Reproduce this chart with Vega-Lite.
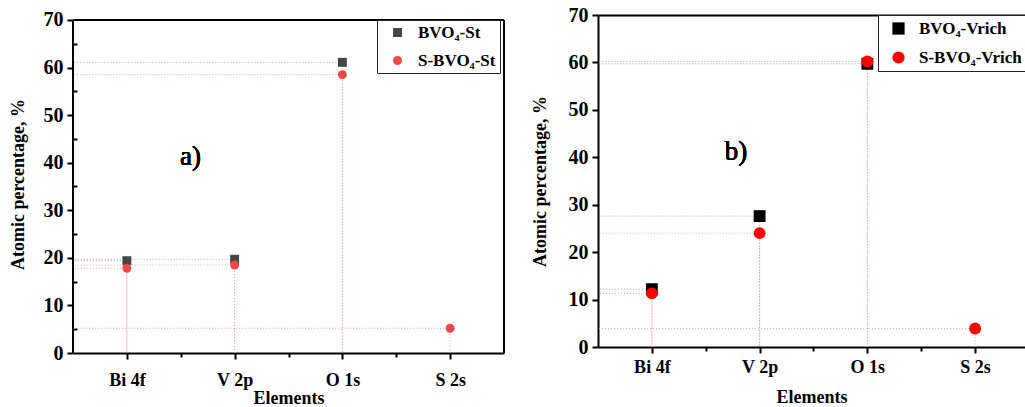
{
  "$schema": "https://vega.github.io/schema/vega-lite/v6.json",
  "padding": {"left": 9, "top": 5, "right": 0, "bottom": 0},
  "spacing": 26,
  "resolve": {
    "scale": {"color": "independent", "shape": "independent"},
    "legend": {"color": "independent", "shape": "independent"}
  },
  "config": {
    "font": "Liberation Serif",
    "view": {"stroke": null},
    "axis": {
      "grid": false,
      "domainColor": "black",
      "domainWidth": 2,
      "tickColor": "black",
      "tickWidth": 2,
      "tickSize": 6,
      "labelFont": "Liberation Serif",
      "labelFontWeight": "bold",
      "labelFontSize": 18,
      "labelColor": "black",
      "titleFont": "Liberation Serif",
      "titleFontWeight": "bold",
      "titleFontSize": 18,
      "titleColor": "black"
    }
  },
  "datasets": {
    "st": [
      {"element": "Bi 4f", "pos": 1, "sample": "BVO₄-St", "value": 19.4},
      {"element": "V 2p", "pos": 2, "sample": "BVO₄-St", "value": 19.7},
      {"element": "O 1s", "pos": 3, "sample": "BVO₄-St", "value": 61.1},
      {"element": "Bi 4f", "pos": 1, "sample": "S-BVO₄-St", "value": 17.8},
      {"element": "V 2p", "pos": 2, "sample": "S-BVO₄-St", "value": 18.5},
      {"element": "O 1s", "pos": 3, "sample": "S-BVO₄-St", "value": 58.5},
      {"element": "S 2s", "pos": 4, "sample": "S-BVO₄-St", "value": 5.2}
    ],
    "rich": [
      {"element": "Bi 4f", "pos": 1, "sample": "BVO₄-Vrich", "value": 12.2},
      {"element": "V 2p", "pos": 2, "sample": "BVO₄-Vrich", "value": 27.6},
      {"element": "O 1s", "pos": 3, "sample": "BVO₄-Vrich", "value": 59.7},
      {"element": "Bi 4f", "pos": 1, "sample": "S-BVO₄-Vrich", "value": 11.3},
      {"element": "V 2p", "pos": 2, "sample": "S-BVO₄-Vrich", "value": 24.0},
      {"element": "O 1s", "pos": 3, "sample": "S-BVO₄-Vrich", "value": 60.2},
      {"element": "S 2s", "pos": 4, "sample": "S-BVO₄-Vrich", "value": 3.9}
    ]
  },
  "hconcat": [
    {
      "width": 431,
      "height": 338,
      "data": {"name": "st"},
      "encoding": {
        "x": {
          "field": "pos", "type": "quantitative",
          "scale": {"domain": [0.5, 4.5], "nice": false, "zero": false},
          "axis": {
            "title": "Elements",
            "values": [1, 1.5, 2, 2.5, 3, 3.5, 4],
            "labelExpr": "datum.value === 1 ? 'Bi 4f' : datum.value === 2 ? 'V 2p' : datum.value === 3 ? 'O 1s' : datum.value === 4 ? 'S 2s' : ''",
            "tickSize": {"condition": {"test": "datum.value % 1 === 0", "value": 6}, "value": 4},
            "labelPadding": 12,
            "titlePadding": 0
          }
        },
        "y": {
          "field": "value", "type": "quantitative",
          "scale": {"domain": [0, 71.05], "nice": false},
          "axis": {
            "title": "Atomic percentage, %",
            "domain": false,
            "values": [0, 5, 10, 15, 20, 25, 30, 35, 40, 45, 50, 55, 60, 65, 70],
            "labelExpr": "datum.value % 10 === 0 ? datum.label : ''",
            "tickSize": {"condition": {"test": "datum.value % 10 === 0", "value": 6}, "value": -4},
            "labelFontSize": 20,
            "labelPadding": 4,
            "titlePadding": 16
          }
        }
      },
      "layer": [
        {
          "transform": [{"filter": "datum.sample === 'BVO₄-St'"}],
          "mark": {"type": "rule", "strokeDash": [1, 2], "strokeWidth": 1, "color": "#a8a8a8"},
          "encoding": {"x2": {"datum": 0.5}}
        },
        {
          "transform": [{"filter": "datum.sample === 'S-BVO₄-St'"}],
          "mark": {"type": "rule", "strokeDash": [1, 2], "strokeWidth": 1, "color": "#f3a0a0"},
          "encoding": {"x2": {"datum": 0.5}}
        },
        {
          "mark": {"type": "rule", "strokeDash": [1, 2], "strokeWidth": 1, "color": "#f3a0a0"},
          "encoding": {"y2": {"datum": 0}}
        },
        {
          "mark": {"type": "rule", "color": "black", "strokeWidth": 2},
          "encoding": {
            "x": {"datum": 0.5, "type": "quantitative"},
            "x2": {"datum": 4.5},
            "y": {"datum": 70, "type": "quantitative"}
          }
        },
        {
          "mark": {"type": "rule", "color": "black", "strokeWidth": 2},
          "encoding": {
            "x": {"datum": 0.5, "type": "quantitative"},
            "y": {"datum": 0, "type": "quantitative"},
            "y2": {"datum": 70}
          }
        },
        {
          "mark": {"type": "rule", "color": "black", "strokeWidth": 2},
          "encoding": {
            "x": {"datum": 4.5, "type": "quantitative"},
            "y": {"datum": 0, "type": "quantitative"},
            "y2": {"datum": 70}
          }
        },
        {
          "mark": {"type": "point", "filled": true, "opacity": 1, "size": 80},
          "encoding": {
            "color": {
              "field": "sample", "type": "nominal",
              "scale": {"domain": ["BVO₄-St", "S-BVO₄-St"], "range": ["#454545", "#f04848"]},
              "legend": {
                "title": null, "orient": "none", "legendX": 304, "legendY": 5, "padding": 4,
                "strokeColor": "#222", "fillColor": "white",
                "labelFont": "Liberation Serif", "labelFontWeight": "bold", "labelFontSize": 17, "labelColor": "black",
                "symbolOffset": 8, "labelOffset": 12, "rowPadding": 10, "symbolSize": 80
              }
            },
            "shape": {
              "field": "sample", "type": "nominal",
              "scale": {"domain": ["BVO₄-St", "S-BVO₄-St"], "range": ["square", "circle"]},
              "legend": {
                "title": null, "orient": "none", "legendX": 304, "legendY": 5, "padding": 4,
                "strokeColor": "#222", "fillColor": "white",
                "labelFont": "Liberation Serif", "labelFontWeight": "bold", "labelFontSize": 17, "labelColor": "black",
                "symbolOffset": 8, "labelOffset": 12, "rowPadding": 10, "symbolSize": 80
              }
            }
          }
        },
        {
          "mark": {"type": "text", "fontSize": 27, "fontWeight": "normal", "font": "Liberation Serif", "color": "black"},
          "encoding": {
            "x": {"datum": 1.59, "type": "quantitative"},
            "y": {"datum": 41.3, "type": "quantitative"},
            "text": {"value": "a)"}
          }
        }
      ]
    },
    {
      "width": 427,
      "height": 332,
      "data": {"name": "rich"},
      "resolve": {"axis": {"x": "independent"}},
      "layer": [
        {
          "encoding": {
            "x": {
              "field": "pos", "type": "quantitative",
              "scale": {"domain": [0.5, 4.463], "nice": false, "zero": false},
              "axis": {
                "title": "Elements",
                "values": [1, 1.5, 2, 2.5, 3, 3.5, 4],
                "labelExpr": "datum.value === 1 ? 'Bi 4f' : datum.value === 2 ? 'V 2p' : datum.value === 3 ? 'O 1s' : datum.value === 4 ? 'S 2s' : ''",
                "tickSize": {"condition": {"test": "datum.value % 1 === 0", "value": 6}, "value": 4},
                "labelPadding": 5,
                "titlePadding": 12
              }
            },
            "y": {
              "field": "value", "type": "quantitative",
              "scale": {"domain": [0, 70], "nice": false},
              "axis": {
                "title": "Atomic percentage, %",
                "values": [0, 5, 10, 15, 20, 25, 30, 35, 40, 45, 50, 55, 60, 65, 70],
                "labelExpr": "datum.value % 10 === 0 ? datum.label : ''",
                "tickSize": {"condition": {"test": "datum.value % 10 === 0", "value": 6}, "value": -4},
                "labelFontSize": 20,
                "labelPadding": 4,
                "titlePadding": 19
              }
            }
          },
          "layer": [
            {
              "transform": [{"filter": "datum.sample === 'BVO₄-Vrich'"}],
              "mark": {"type": "rule", "strokeDash": [1, 2], "strokeWidth": 1, "color": "#a0a0a0"},
              "encoding": {"x2": {"datum": 0.5}}
            },
            {
              "transform": [{"filter": "datum.sample === 'S-BVO₄-Vrich'"}],
              "mark": {"type": "rule", "strokeDash": [1, 2], "strokeWidth": 1, "color": "#f3a0a0"},
              "encoding": {"x2": {"datum": 0.5}}
            },
            {
              "mark": {"type": "rule", "strokeDash": [1, 2], "strokeWidth": 1, "color": "#f3a0a0"},
              "encoding": {"y2": {"datum": 0}}
            },
            {
              "mark": {"type": "point", "filled": true, "opacity": 1, "size": 140},
              "encoding": {
                "color": {
                  "field": "sample", "type": "nominal",
                  "scale": {"domain": ["BVO₄-Vrich", "S-BVO₄-Vrich"], "range": ["#000000", "#ff0000"]},
                  "legend": {
                    "title": null, "orient": "none", "legendX": 280, "legendY": 0, "padding": 5,
                    "strokeColor": "#222", "fillColor": "white",
                    "labelFont": "Liberation Serif", "labelFontWeight": "bold", "labelFontSize": 17, "labelColor": "black",
                    "symbolOffset": 7, "labelOffset": 12, "rowPadding": 11, "symbolSize": 150
                  }
                },
                "shape": {
                  "field": "sample", "type": "nominal",
                  "scale": {"domain": ["BVO₄-Vrich", "S-BVO₄-Vrich"], "range": ["square", "circle"]},
                  "legend": {
                    "title": null, "orient": "none", "legendX": 280, "legendY": 0, "padding": 5,
                    "strokeColor": "#222", "fillColor": "white",
                    "labelFont": "Liberation Serif", "labelFontWeight": "bold", "labelFontSize": 17, "labelColor": "black",
                    "symbolOffset": 7, "labelOffset": 12, "rowPadding": 11, "symbolSize": 150
                  }
                }
              }
            },
            {
              "mark": {"type": "text", "fontSize": 27, "fontWeight": "normal", "font": "Liberation Serif", "color": "black"},
              "encoding": {
                "x": {"datum": 1.78, "type": "quantitative"},
                "y": {"datum": 41.1, "type": "quantitative"},
                "text": {"value": "b)"}
              }
            }
          ]
        },
        {
          "mark": {"type": "point", "opacity": 0},
          "encoding": {
            "x": {"field": "pos", "type": "quantitative", "axis": {"orient": "top", "labels": false, "ticks": false, "title": null, "domainWidth": 2}},
            "y": {"field": "value", "type": "quantitative"}
          }
        }
      ]
    }
  ]
}
